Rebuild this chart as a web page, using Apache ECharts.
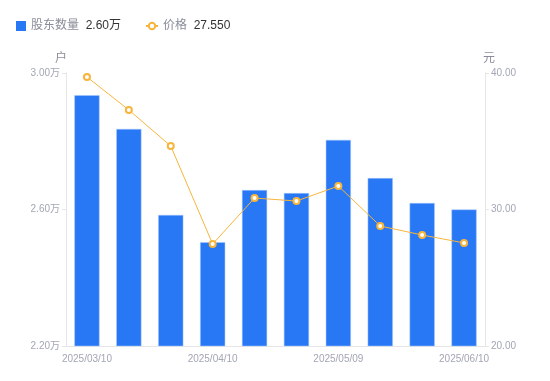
<!DOCTYPE html>
<html><head><meta charset="utf-8">
<script src="https://cdn.jsdelivr.net/npm/echarts@6/dist/echarts.min.js"></script>
<style>html,body{margin:0;padding:0;background:#fff}#c{width:550px;height:381px}</style>
</head><body><div id="c"></div>
<script>
const categories = ['2025/03/10','2025/03/20','2025/03/31','2025/04/10','2025/04/18','2025/04/30','2025/05/09','2025/05/20','2025/05/30','2025/06/10'];
const holders = [2.935, 2.836, 2.584, 2.504, 2.657, 2.648, 2.804, 2.692, 2.619, 2.600];
const prices = [39.71, 37.29, 34.65, 27.47, 30.84, 30.62, 31.72, 28.79, 28.13, 27.55];
const leftTicks = [2.20, 2.60, 3.00];
const rightTicks = [20, 30, 40];

const chart = echarts.init(document.getElementById('c'));
const labelColor = '#a3a6b4';
const legendFormatter = function(name){
  if (name === '股东数量') return '{a|' + name + '}  {b|' + holders[holders.length-1].toFixed(2) + '万}';
  return '{a|' + name + '}  {b|' + prices[prices.length-1].toFixed(3) + '}';
};
const legendText = {rich: {a: {color: '#8a8d99', fontSize: 12}, b: {color: '#333', fontSize: 12}}};
chart.setOption({
  animation: false,
  textStyle: {fontFamily: '"Liberation Sans", Arial, "Noto Sans CJK SC", sans-serif'},
  legend: [
    {left: 11, top: 15, itemWidth: 10, itemHeight: 10,
      data: [{name: '股东数量', icon: 'rect', itemStyle: {borderWidth: 0}}],
      formatter: legendFormatter, textStyle: legendText},
    {left: 140, top: 15, itemWidth: 12, itemHeight: 8,
      data: [{name: '价格'}],
      formatter: legendFormatter, textStyle: legendText}
  ],
  grid: {left: 66, right: 65, top: 73, bottom: 35},
  xAxis: {
    type: 'category', data: categories,
    axisLine: {lineStyle: {color: '#e6e6e6'}},
    axisTick: {show: false},
    axisLabel: {color: labelColor, fontSize: 10, interval: 2, margin: 8}
  },
  yAxis: [
    {type: 'value', min: leftTicks[0], max: leftTicks[2], interval: 0.4,
      name: '户', nameTextStyle: {color: '#8a8d99', fontSize: 12, padding: [0, 10, 0, 0]}, nameGap: 8,
      axisLine: {show: true, lineStyle: {color: '#e6e6e6'}},
      axisTick: {show: true, length: 4, lineStyle: {color: '#e6e6e6'}},
      splitLine: {show: false},
      axisLabel: {color: labelColor, fontSize: 10, margin: 6, formatter: v => v.toFixed(2) + '万'}
    },
    {type: 'value', min: rightTicks[0], max: rightTicks[2], interval: 10,
      name: '元', nameTextStyle: {color: '#8a8d99', fontSize: 12, padding: [0, 0, 0, 8]}, nameGap: 8,
      axisLine: {show: true, lineStyle: {color: '#e6e6e6'}},
      axisTick: {show: true, length: 4, lineStyle: {color: '#e6e6e6'}},
      splitLine: {show: false},
      axisLabel: {color: labelColor, fontSize: 10, margin: 6, formatter: v => v.toFixed(2)}
    }
  ],
  series: [
    {name: '股东数量', type: 'bar', data: holders, barWidth: '60%',
      itemStyle: {color: '#2878f5', borderColor: '#a8c8fa', borderWidth: 0.5}},
    {name: '价格', type: 'line', yAxisIndex: 1, data: prices,
      symbol: 'emptyCircle', symbolSize: 6,
      lineStyle: {color: '#f7b53b', width: 1},
      itemStyle: {color: '#f7b53b', borderWidth: 2}}
  ]
});
</script></body></html>
